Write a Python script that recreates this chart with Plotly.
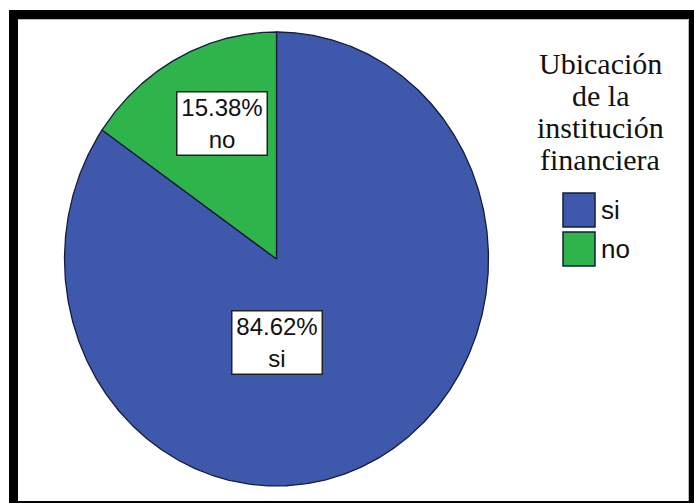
import numpy as np
import plotly.graph_objects as go

# Data
categories = ["si", "no"]
percentages = [84.62, 15.38]
legend_title_lines = ["Ubicación", "de la", "institución", "financiera"]

# Styling
slice_colors = ["#3E58AB", "#2EB44A"]
edge_color = "#141c3a"
W, H = 694, 503
cx, cy = 276.5, 259.0      # pie centre (pixel units)
rx, ry = 212.0, 227.0      # pie radii (slightly oval)

fig = go.Figure()

# Slices, drawn clockwise from 12 o'clock
start = 0.0
for cat, pct, col in zip(categories, percentages, slice_colors):
    sweep = 360.0 * pct / sum(percentages)
    t = np.radians(np.linspace(start, start + sweep, max(int(sweep * 2), 8)))
    xs = np.concatenate([[cx], cx + rx * np.sin(t), [cx]])
    ys = np.concatenate([[cy], cy - ry * np.cos(t), [cy]])
    fig.add_trace(go.Scatter(
        x=xs, y=ys, mode="lines", fill="toself", fillcolor=col,
        line=dict(color=edge_color, width=1.3), name=cat,
        hoverinfo="skip", showlegend=False,
    ))
    start += sweep

# Slice labels
label_pos = {"no": (222, 123), "si": (277, 342)}
for cat, pct in zip(categories, percentages):
    x, y = label_pos[cat]
    fig.add_annotation(
        x=x, y=y, text=f"{pct:.2f}%<br>{cat}", showarrow=False,
        font=dict(family="Liberation Sans, Arial", size=24, color="#111111"),
        bgcolor="white", bordercolor="#222222", borderwidth=1.5, borderpad=3,
        width=83, height=56, align="center",
    )

# Legend title, one line per annotation for tight spacing
for i, line in enumerate(legend_title_lines):
    fig.add_annotation(
        x=600, y=63 + i * 32, text=line, showarrow=False,
        font=dict(family="Liberation Serif, Times New Roman", size=30, color="#111111"),
        align="center",
    )

# Legend swatches and labels
for i, (cat, col) in enumerate(zip(categories, slice_colors)):
    y0 = 193 + i * 39
    fig.add_shape(type="rect", x0=563, x1=595, y0=y0, y1=y0 + 34,
                  fillcolor=col, line=dict(color=edge_color, width=1.5))
    fig.add_annotation(
        x=599, y=y0 + 17, text=cat, showarrow=False, xanchor="left",
        font=dict(family="Liberation Sans, Arial", size=26, color="#111111"),
    )

# Black frame
frame = [(9, 694, 10, 19), (9, 18, 10, 503), (689, 694, 10, 503), (9, 694, 501, 503)]
for x0, x1, y0, y1 in frame:
    fig.add_shape(type="rect", x0=x0, x1=x1, y0=y0, y1=y1,
                  fillcolor="black", line=dict(width=0))
fig.add_shape(type="line", x0=18, x1=688, y0=19.5, y1=19.5, line=dict(color="#bbbbbb", width=1))
fig.add_shape(type="line", x0=688.5, x1=688.5, y0=19.5, y1=501, line=dict(color="#bbbbbb", width=1))

fig.update_xaxes(range=[0, W], visible=False, fixedrange=True)
fig.update_yaxes(range=[H, 0], visible=False, fixedrange=True)
fig.update_layout(
    width=W, height=H, margin=dict(l=0, r=0, t=0, b=0),
    paper_bgcolor="white", plot_bgcolor="white", showlegend=False,
)

fig.write_html("out.html", config={"displayModeBar": False})
